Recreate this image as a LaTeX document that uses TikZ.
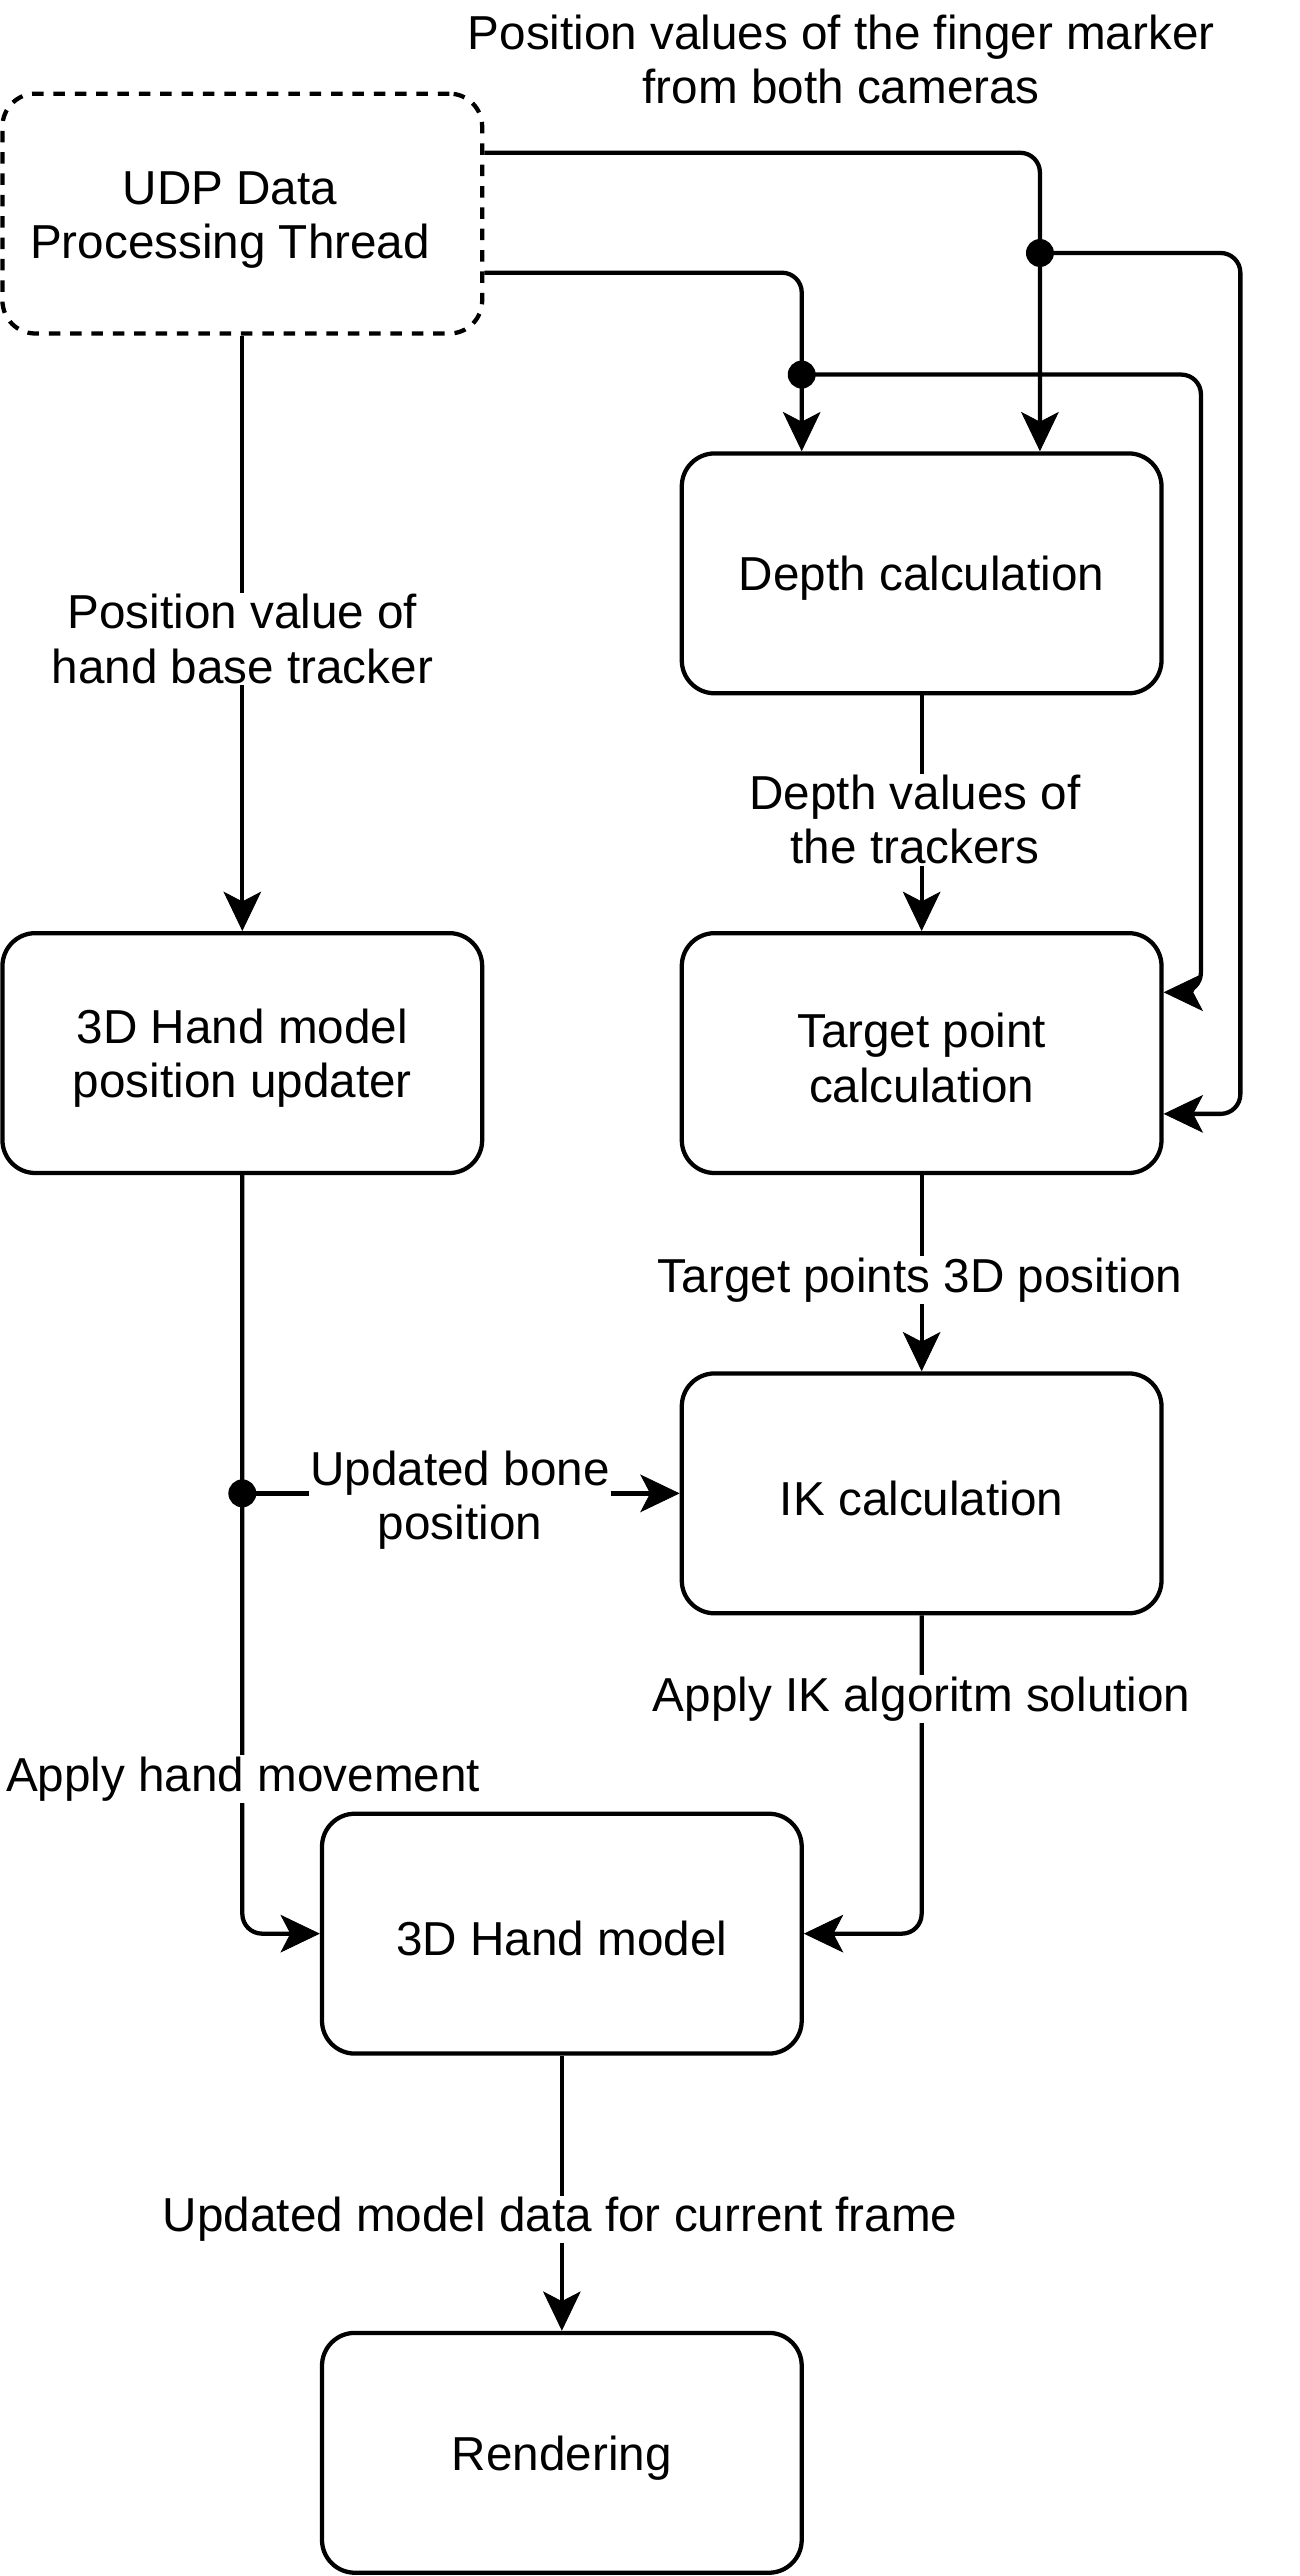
\documentclass[tikz,border=0pt]{standalone}
\usepackage{fontspec}
\setmainfont{Liberation Sans}
\usetikzlibrary{arrows.meta}
\begin{document}
\begin{tikzpicture}[x=1pt,y=-1pt,
  every node/.style={font=\fontsize{29}{33}\selectfont, align=center},
  box/.style={draw, line width=2.6pt, rounded corners=20pt, minimum width=292pt, minimum height=146pt, inner sep=0pt},
  txt/.style={yshift=-3pt},
  tipA/.tip={Stealth[length=24pt,width=23pt,inset=6pt,line width=0.5pt,fill=black,sharp]},
  conn/.style={draw, line width=2.6pt, -tipA},
  rc/.style={rounded corners=12pt},
  lbl/.style={fill=white, inner sep=1pt}]
\fill[white] (0,0) rectangle (791.3,1568);
\useasboundingbox (0,0) rectangle (791.3,1568);

% boxes
\node[box, dashed, dash pattern=on 7pt off 6pt] (udp) at (147.5,130) {};
\node[txt] (udptxt) at (140,131) {UDP Data\\Processing Thread};
\node[box] (depth) at (561,349) {};
\node[txt] at (depth) {Depth calculation};
\node[box] (target) at (561,641) {};
\node[txt] at (target) {Target point\\calculation};
\node[box] (upd) at (147.5,641) {};
\node[txt] at (upd) {3D Hand model\\position updater};
\node[box] (ik) at (561,909) {};
\node[txt] at (ik) {IK calculation};
\node[box] (hand) at (342,1177) {};
\node[txt] at (hand) {3D Hand model};
\node[box] (rend) at (342,1493) {};
\node[txt] at (rend) {Rendering};

% junctions
\coordinate (j1) at (633,154);
\coordinate (j2) at (488,228);
\coordinate (j3) at (147.5,909);

% connectors from UDP
\draw[conn] (udp.east |- 0,93) [rc] -| (depth.north -| 633,0);
\draw[conn] (udp.east |- 0,166) [rc] -| (depth.north -| 488,0);
\draw[conn] (j1) [rc] -- (755,154) -- (755,678) -- (target.east |- 0,678);
\draw[conn] (j2) [rc] -- (731,228) -- (731,604) -- (target.east |- 0,604);
\fill (j1) circle (8.5pt);
\fill (j2) circle (8.5pt);

\draw[conn] (udp.south) -- (upd.north);
\draw[conn] (depth.south) -- (target.north);
\draw[conn] (target.south) -- (ik.north);
\draw[conn] (upd.south) [rc] |- (hand.west);
\draw[conn] (j3) -- (ik.west);
\fill (j3) circle (8.5pt);
\draw[conn] (ik.south) [rc] |- (hand.east);
\draw[conn] (hand.south) -- (rend.north);

% labels
\node[txt] (ltop) at (512,33) {Position values of the finger marker\\from both cameras};
\node[lbl,txt] (l1) at (147.5,386) {Position value of\\hand base tracker};
\node[lbl,txt] (l2) at (557,496) {Depth values of\\the trackers};
\node[lbl,txt] (l3) at (560,776) {Target points 3D position};
\node[lbl,txt] (l4) at (280,910) {Updated bone\\position};
\node[lbl,txt] (l5) at (148,1080) {Apply hand movement};
\node[lbl,txt] (l6) at (561,1031) {Apply IK algoritm solution};
\node[lbl,txt] (l7) at (341,1348) {Updated model data for current frame};
\end{tikzpicture}
\end{document}
